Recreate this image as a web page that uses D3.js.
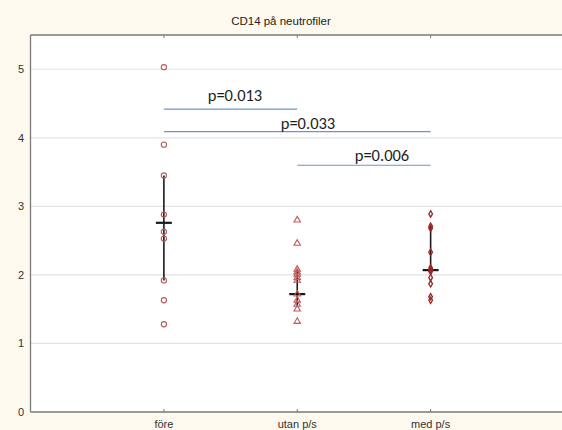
<!DOCTYPE html>
<html>
<head>
<meta charset="utf-8">
<script src="https://cdn.jsdelivr.net/npm/d3@7"></script>
<style>
  html, body { margin: 0; padding: 0; background: #fdf9ee; }
  svg { display: block; }
</style>
</head>
<body>
<div id="chart"></div>
<script>
// groups along the x axis
const groups = ["före", "utan p/s", "med p/s"];

// individual observations per group
const foreValues = [5.03, 3.90, 3.45, 2.88, 2.63, 2.53, 1.92, 1.63, 1.28];
const utanValues = [2.80, 2.46, 2.08, 2.04, 2.01, 1.96, 1.92, 1.72, 1.63, 1.57, 1.50, 1.32];
const medValues = [2.89, 2.71, 2.68, 2.33, 2.10, 2.07, 2.05, 1.96, 1.87, 1.68, 1.63];

// centre marker and whisker range per group
const centers = [2.76, 1.72, 2.07];
const whiskerLow = [1.92, 1.55, 2.07];
const whiskerHigh = [3.45, 2.08, 2.71];

// p-value brackets: [from group, to group, label, level]
const pFrom = [0, 0, 1];
const pTo = [1, 2, 2];
const pLabels = ["p=0.013", "p=0.033", "p=0.006"];
const pLevels = [4.42, 4.09, 3.60];

const yTicks = [0, 1, 2, 3, 4, 5];

const width = 562, height = 430;
const margin = {top: 35, left: 30.5, bottom: 18};
const plotRight = 564;

const svg = d3.select("#chart").append("svg")
    .attr("width", width)
    .attr("height", height);

var x = d3.scaleLinear().domain([0, 4]).range([margin.left, plotRight]);
var y = d3.scaleLinear().domain([0, 5.5]).range([height - margin.bottom, margin.top]);

// plot background
svg.append("rect")
    .attr("x", margin.left).attr("y", margin.top)
    .attr("width", plotRight - margin.left + 10)
    .attr("height", y(0) - margin.top)
    .attr("fill", "#ffffff");

// grid lines
svg.append("g").selectAll("line")
    .data(yTicks.filter(d => d > 0))
    .join("line")
    .attr("x1", margin.left).attr("x2", width)
    .attr("y1", d => y(d)).attr("y2", d => y(d))
    .attr("stroke", "#e4e4e4")
    .attr("stroke-width", 1.2);

// frame
const frame = svg.append("g").attr("stroke", "#7a7a7a").attr("stroke-width", 1.3).attr("fill", "none");
frame.append("line").attr("x1", margin.left).attr("x2", width).attr("y1", margin.top).attr("y2", margin.top);
frame.append("line").attr("x1", margin.left).attr("x2", width).attr("y1", y(0)).attr("y2", y(0));
frame.append("line").attr("x1", margin.left).attr("x2", margin.left).attr("y1", margin.top).attr("y2", y(0));

// category ticks (top and bottom, inward)
groups.forEach(function(g, i) {
    frame.append("line").attr("x1", x(i + 1)).attr("x2", x(i + 1))
        .attr("y1", margin.top).attr("y2", margin.top + 3).attr("stroke-width", 1);
    frame.append("line").attr("x1", x(i + 1)).attr("x2", x(i + 1))
        .attr("y1", y(0)).attr("y2", y(0) - 3).attr("stroke-width", 1);
});

// y tick labels
svg.append("g").selectAll("text")
    .data(yTicks)
    .join("text")
    .attr("x", 24)
    .attr("y", d => y(d))
    .attr("dy", "0.35em")
    .attr("text-anchor", "end")
    .attr("font-family", "Liberation Sans, Arial, sans-serif")
    .attr("font-size", 11)
    .attr("fill", "#333")
    .text(d => d);

// x labels
svg.append("g").selectAll("text")
    .data(groups)
    .join("text")
    .attr("x", (d, i) => x(i + 1))
    .attr("y", 428)
    .attr("text-anchor", "middle")
    .attr("font-family", "Liberation Sans, Arial, sans-serif")
    .attr("font-size", 11)
    .attr("fill", "#333")
    .text(d => d);

// title
svg.append("text")
    .attr("x", 281).attr("y", 25)
    .attr("text-anchor", "middle")
    .attr("font-family", "Liberation Sans, Arial, sans-serif")
    .attr("font-size", 11.5)
    .attr("fill", "#222")
    .text("CD14 på neutrofiler");

// whiskers and centre crosses
const summary = svg.append("g").attr("stroke", "#1a1a1a");
groups.forEach(function(g, i) {
    summary.append("line")
        .attr("x1", x(i + 1)).attr("x2", x(i + 1))
        .attr("y1", y(whiskerLow[i])).attr("y2", y(whiskerHigh[i]))
        .attr("stroke-width", 1.6);
    summary.append("line")
        .attr("x1", x(i + 1) - 8).attr("x2", x(i + 1) + 8)
        .attr("y1", y(centers[i])).attr("y2", y(centers[i]))
        .attr("stroke-width", 2.2);
});

// points
svg.append("g").selectAll("circle")
    .data(foreValues)
    .join("circle")
    .attr("cx", x(1)).attr("cy", d => y(d))
    .attr("r", 2.6)
    .attr("fill", "none")
    .attr("stroke", "#b45a5a")
    .attr("stroke-width", 1.1);

svg.append("g").selectAll("path")
    .data(utanValues)
    .join("path")
    .attr("transform", d => `translate(${x(2)},${y(d)})`)
    .attr("d", d3.symbol(d3.symbolTriangle, 18))
    .attr("fill", "none")
    .attr("stroke", "#c05a5a")
    .attr("stroke-width", 1.1);

svg.append("g").selectAll("path")
    .data(medValues)
    .join("path")
    .attr("transform", d => `translate(${x(3)},${y(d)})`)
    .attr("d", d3.symbol(d3.symbolDiamond, 12))
    .attr("fill", "none")
    .attr("stroke", "#9c2525")
    .attr("stroke-width", 1.3);

// p-value brackets
const pg = svg.append("g");
pLabels.forEach(function(lbl, i) {
    pg.append("line")
        .attr("x1", x(pFrom[i] + 1)).attr("x2", x(pTo[i] + 1))
        .attr("y1", y(pLevels[i])).attr("y2", y(pLevels[i]))
        .attr("stroke", "#6f95cc")
        .attr("stroke-width", 1.2);
});
const pTextX = [235, 308, 382];
const pTextY = [101, 129, 161];
pLabels.forEach(function(lbl, i) {
    pg.append("text")
        .attr("x", pTextX[i]).attr("y", pTextY[i])
        .attr("text-anchor", "middle")
        .attr("font-family", "Carlito, Lato, sans-serif")
        .attr("font-size", 16.5)
        .attr("fill", "#1e1e1e")
        .text(lbl);
});
</script>
</body>
</html>
